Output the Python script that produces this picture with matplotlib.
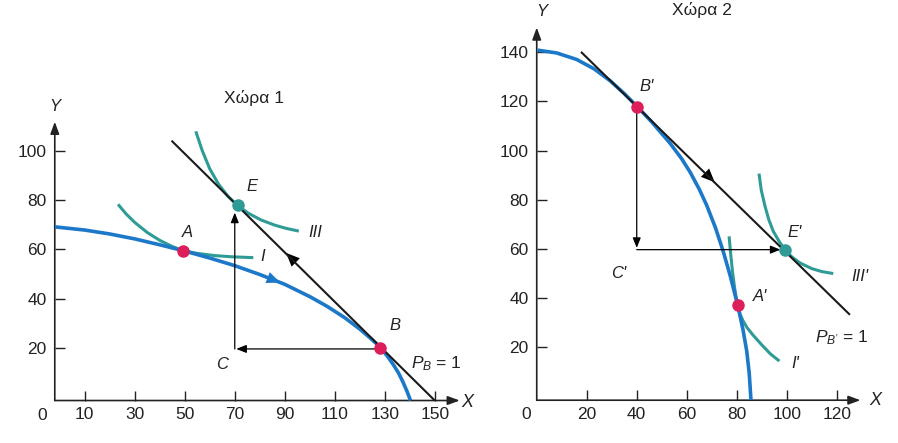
import matplotlib.pyplot as plt

plt.rcParams['font.family'] = ['Liberation Sans', 'DejaVu Sans']
plt.rcParams['mathtext.fontset'] = 'custom'
plt.rcParams['mathtext.it'] = 'Liberation Sans:italic'
plt.rcParams['mathtext.rm'] = 'Liberation Sans'

BLUE = '#1c78c8'
TEAL = '#2e9b96'
PINK = '#dc1f5a'

# ---- Country 1 ----
ppf1_x = [-2, 10, 20, 30, 40, 49.4, 60, 70, 80, 90, 100, 107, 114, 120, 125,
          128.1, 131, 133.5, 135.5, 137.3, 138.9, 140.3]
ppf1_y = [69.2, 67.9, 66.3, 64.3, 61.9, 59.5, 56.5, 53.4, 49.8, 45.8, 40.8,
          36.8, 32.2, 27.6, 23.2, 20.2, 16.6, 13.0, 9.7, 6.0, 2.2, -1.5]
ic1_I_x = [23.7, 26.5, 30, 35, 40, 45, 49.4, 55, 62, 69, 76.8]
ic1_I_y = [77.9, 74.5, 71.0, 66.9, 63.7, 61.2, 59.5, 58.4, 57.5, 57.0, 56.7]
ic1_III_x = [54.6, 57, 60, 63.5, 67.3, 71.3, 75.5, 80.5, 86, 90.5, 95]
ic1_III_y = [107.5, 100.2, 92.8, 86.6, 81.6, 77.8, 74.7, 72.0, 69.9, 68.6, 67.6]
price1_x = [45, 150]
price1_y = [104, -1.5]
pts1 = {'A': (49.4, 59.5), 'B': (128.1, 19.9), 'E': (71.3, 77.9)}
C1 = (70, 19.5)

# ---- Country 2 ----
ppf2_x = [0.3, 8, 16, 23, 29.3, 35, 40, 46, 53.3, 58, 61.3, 65, 68, 71.5,
          74.6, 77.5, 80.4, 82.5, 84, 85, 85.7]
ppf2_y = [140.8, 139.65, 137.0, 133.15, 128.4, 123.15, 118.05, 111.6, 103.0,
          96.6, 91.3, 84.3, 77.7, 68.6, 59.0, 48.7, 37.1, 27.2, 18.5, 9.5, -1.5]
ic2_I_x = [77, 77.6, 78.3, 79.1, 79.8, 80.4, 81.3, 82.5, 84.2, 86.5, 90, 93.5, 96.6]
ic2_I_y = [64.5, 57.8, 50.9, 44.6, 40.0, 37.0, 33.6, 30.8, 27.9, 25.0, 21.0,
           17.3, 14.8]
ic2_III_x = [89, 89.8, 91.3, 92.8, 94.6, 97, 99.3, 102, 105.3, 110, 114, 118]
ic2_III_y = [90, 84, 77.4, 72, 67.2, 63, 59.7, 56.8, 54.3, 52, 50.8, 50.1]
price2_x = [18, 125]
price2_y = [139.8, 33.5]
pts2 = {"B'": (40, 117.7), "A'": (80.4, 37), "E'": (99.3, 59.7)}
C2 = (40, 59.7)

fig = plt.figure(figsize=(8.98, 4.43), dpi=100)
ax1 = fig.add_axes([0.0610, 0.0959, 0.4510, 0.6293])
ax2 = fig.add_axes([0.5977, 0.0966, 0.3605, 0.8413])

ax1.set_xlim(-2, 160)
ax1.set_ylim(-1.5, 112)
ax2.set_xlim(0, 129.5)
ax2.set_ylim(-1.5, 150)


def arrow(ax, tail, tip, color='black', lw=0.9, hl=0.5, hw=0.2, ms=12):
    ax.annotate('', xy=tip, xytext=tail,
                arrowprops=dict(arrowstyle=f'-|>,head_length={hl},head_width={hw}',
                                color=color, lw=lw, shrinkA=0, shrinkB=0,
                                mutation_scale=ms),
                annotation_clip=False)


for ax in (ax1, ax2):
    for s in ax.spines.values():
        s.set_visible(False)
    ax.tick_params(direction='in', length=7, width=1, labelsize=12.5,
                   colors='#222222')
    ax.tick_params(axis='y', pad=6)
    ax.tick_params(axis='x', pad=5)
    # axes with arrowheads
    ax.annotate('', xy=(1, 0), xytext=(0, 0), xycoords='axes fraction',
                arrowprops=dict(arrowstyle='-|>,head_length=0.6,head_width=0.22',
                                color='#222222', lw=1.2, shrinkA=0, shrinkB=0,
                                mutation_scale=12))
    ax.annotate('', xy=(0, 1), xytext=(0, 0), xycoords='axes fraction',
                arrowprops=dict(arrowstyle='-|>,head_length=0.6,head_width=0.22',
                                color='#222222', lw=1.2, shrinkA=0, shrinkB=0,
                                mutation_scale=12))

ax1.set_xticks([10, 30, 50, 70, 90, 110, 130, 150])
ax1.set_yticks([20, 40, 60, 80, 100])
ax2.set_xticks([20, 40, 60, 80, 100, 120])
ax2.set_yticks([20, 40, 60, 80, 100, 120, 140])

# ---- left panel ----
ax1.plot(ppf1_x, ppf1_y, color=BLUE, lw=2.6, solid_capstyle='butt',
         solid_joinstyle='round', zorder=3)
ax1.plot(ic1_I_x, ic1_I_y, color=TEAL, lw=2.2, solid_joinstyle='round', zorder=2)
ax1.plot(ic1_III_x, ic1_III_y, color=TEAL, lw=2.2, solid_joinstyle='round', zorder=2)
ax1.plot(price1_x, price1_y, color='#1a1a1a', lw=1.5, zorder=4)
arrow(ax1, (pts1['B'][0], C1[1]), (70.6, C1[1]))
arrow(ax1, C1, (C1[0], 75))
arrow(ax1, (94.5, 54.6), (90.5, 58.6), lw=0, hl=0.7, hw=0.3, ms=14)
arrow(ax1, (83, 48.6), (88.2, 46.5), color=BLUE, lw=0, hl=0.7, hw=0.3, ms=14)
ax1.plot(*pts1['A'], 'o', color=PINK, ms=8, zorder=5)
ax1.plot(*pts1['B'], 'o', color=PINK, ms=8, zorder=5)
ax1.plot(*pts1['E'], 'o', color=TEAL, ms=8, zorder=5)

lab = dict(fontsize=12, style='italic', ha='center', va='center', color='#222222')
ax1.text(51, 67, 'A', **lab)
ax1.text(134.1, 29, 'B', **lab)
ax1.text(77, 85.8, 'E', **lab)
ax1.text(65, 13, 'C', **lab)
ax1.text(81, 57.3, 'I', **lab)
ax1.text(102.4, 67, 'III', **lab)
ax1.text(140.6, 11.6, r'$P_B$ = 1', fontsize=12.5, ha='left', va='baseline',
         color='#222222')
ax1.text(77.6, 121.6, 'Χώρα 1', fontsize=12.5, ha='center', va='center',
         color='#222222')
ax1.text(-2, 118.3, 'Y', **lab)
ax1.text(163, -2.5, 'X', **{**lab, 'fontsize': 13})
ax1.text(-7, -7.4, '0', fontsize=12.5, ha='center', va='center', color='#222222')

# ---- right panel ----
ax2.plot(ppf2_x, ppf2_y, color=BLUE, lw=2.6, solid_capstyle='butt',
         solid_joinstyle='round', zorder=3)
ax2.plot(ic2_I_x, ic2_I_y, color=TEAL, lw=2.2, solid_joinstyle='round', zorder=2)
ax2.plot(ic2_III_x, ic2_III_y, color=TEAL, lw=2.2, solid_joinstyle='round', zorder=2)
ax2.plot(price2_x, price2_y, color='#1a1a1a', lw=1.5, zorder=4)
arrow(ax2, (C2[0], pts2["B'"][1]), (C2[0], 60.4))
arrow(ax2, C2, (97.5, C2[1]))
arrow(ax2, (66.5, 91.8), (71.2, 87.1), lw=0, hl=0.7, hw=0.3, ms=14)
ax2.plot(*pts2["B'"], 'o', color=PINK, ms=8, zorder=5)
ax2.plot(*pts2["A'"], 'o', color=PINK, ms=8, zorder=5)
ax2.plot(*pts2["E'"], 'o', color=TEAL, ms=8, zorder=5)

ax2.text(44, 126, "B'", **lab)
ax2.text(89.3, 40.6, "A'", **lab)
ax2.text(103.3, 66.5, "E'", **lab)
ax2.text(32.6, 50.2, "C'", **lab)
ax2.text(103.3, 13.5, "I'", **lab)
ax2.text(129.3, 48.8, "III'", **lab)
ax2.text(111.3, 21.9, r"$P_{B'}$ = 1", fontsize=12.5, ha='left', va='baseline',
         color='#222222')
ax2.text(66, 157, 'Χώρα 2', fontsize=12.5, ha='center', va='center',
         color='#222222')
ax2.text(2, 156.6, 'Y', **lab)
ax2.text(135.5, -1.5, 'X', **{**lab, 'fontsize': 13})
ax2.text(-4.3, -7.5, '0', fontsize=12.5, ha='center', va='center', color='#222222')

fig.savefig('out.png', dpi=100)
